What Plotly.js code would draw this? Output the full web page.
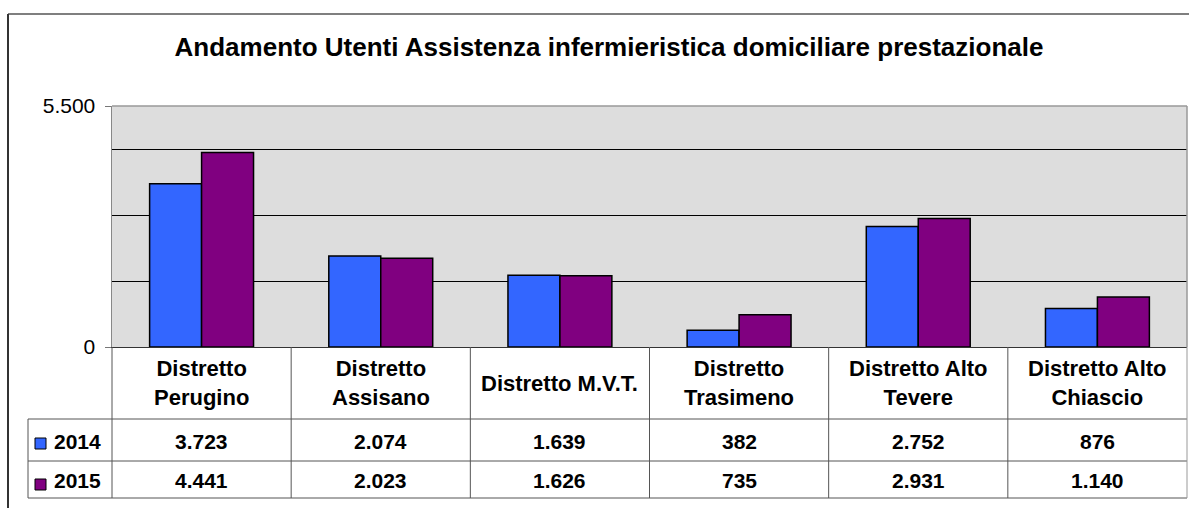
<!DOCTYPE html>
<html>
<head>
<meta charset="utf-8">
<script src="https://cdn.plot.ly/plotly-3.0.1.min.js"></script>
<style>html,body{margin:0;padding:0;background:#fff;}#chart{width:1189px;height:508px;}</style>
</head>
<body>
<div id="chart"></div>
<script>
// ---- data ----
const categories = ["Distretto Perugino", "Distretto Assisano", "Distretto M.V.T.", "Distretto Trasimeno", "Distretto Alto Tevere", "Distretto Alto Chiascio"];
const headerLabels = ["Distretto<br>Perugino", "Distretto<br>Assisano", "Distretto M.V.T.", "Distretto<br>Trasimeno", "Distretto Alto<br>Tevere", "Distretto Alto<br>Chiascio"];
const seriesNames = ["2014", "2015"];
const values2014 = [3723, 2074, 1639, 382, 2752, 876];
const values2015 = [4441, 2023, 1626, 735, 2931, 1140];
const seriesColors = ["#3366FF", "#800080"];
const yTickVals = [0, 5500];
const yGridVals = [1500, 3000, 4500];

// ---- layout helpers (pixel geometry of the canvas) ----
const W = 1189, H = 508;
const L = 112, R = 1187, T = 106, B = 347;
const px = X => (X - L) / (R - L);       // pixel x -> paper x
const py = Y => (B - Y) / (B - T);       // pixel y -> paper y
const fmt = v => String(v).replace(/\B(?=(\d{3})+(?!\d))/g, ".");
const FONT = '"Liberation Sans", Arial, sans-serif';

const seriesValues = [values2014, values2015];

const traces = seriesNames.map((n, i) => ({
  type: "bar",
  name: n,
  x: categories,
  y: seriesValues[i],
  marker: { color: seriesColors[i], line: { color: "#000", width: 1.5 } },
  hoverinfo: "x+y+name"
}));

const lineColor = "#555";
const shapes = [];
// outer chart frame
shapes.push({ type: "line", xref: "paper", yref: "paper", x0: px(8), x1: px(1195), y0: py(14), y1: py(14), line: { color: "#000", width: 1.2 } });
shapes.push({ type: "line", xref: "paper", yref: "paper", x0: px(8), x1: px(8), y0: py(14), y1: py(515), line: { color: "#333", width: 2 } });
// plot area top / right border
shapes.push({ type: "line", xref: "paper", yref: "paper", x0: 0, x1: 1, y0: 1, y1: 1, line: { color: "#999", width: 1.5 } });
shapes.push({ type: "line", xref: "paper", yref: "paper", x0: 1, x1: 1, y0: 0, y1: 1, line: { color: "#999", width: 1.5 } });
// table horizontal lines
const rowLines = [419, 461, 498];
rowLines.forEach(Y => shapes.push({ type: "line", xref: "paper", yref: "paper", x0: px(28), x1: 1, y0: py(Y), y1: py(Y), line: { color: lineColor, width: 1 } }));
// table vertical lines
shapes.push({ type: "line", xref: "paper", yref: "paper", x0: px(28), x1: px(28), y0: py(419), y1: py(498), line: { color: lineColor, width: 1 } });
shapes.push({ type: "line", xref: "paper", yref: "paper", x0: 0, x1: 0, y0: py(347), y1: py(498), line: { color: lineColor, width: 1 } });
shapes.push({ type: "line", xref: "paper", yref: "paper", x0: 1, x1: 1, y0: py(347), y1: py(498), line: { color: "#999", width: 1 } });
for (let i = 0; i < categories.length - 1; i++) {
  shapes.push({ type: "line", xref: "x", yref: "paper", x0: i + 0.5, x1: i + 0.5, y0: py(347), y1: py(498), line: { color: lineColor, width: 1 } });
}
// legend keys inside table
const keyY = [[438, 449], [479, 490]];
seriesColors.forEach((c, i) => shapes.push({ type: "rect", xref: "paper", yref: "paper", x0: px(35), x1: px(46), y0: py(keyY[i][1]), y1: py(keyY[i][0]), fillcolor: c, line: { color: "#000", width: 1 } }));

const annotations = [];
categories.forEach((c, i) => {
  annotations.push({ xref: "x", yref: "paper", x: c, y: py(383), text: "<b>" + headerLabels[i] + "</b>", showarrow: false, xanchor: "center", yanchor: "middle", font: { family: FONT, size: 22, color: "#000" } });
});
const rowCenters = [441, 480];
seriesValues.forEach((vals, s) => {
  vals.forEach((v, i) => annotations.push({ xref: "x", yref: "paper", x: categories[i], y: py(rowCenters[s]), text: "<b>" + fmt(v) + "</b>", showarrow: false, xanchor: "center", yanchor: "middle", font: { family: FONT, size: 21, color: "#000" } }));
  annotations.push({ xref: "paper", yref: "paper", x: px(52), y: py(rowCenters[s]), text: "<b>" + seriesNames[s] + "</b>", showarrow: false, xanchor: "left", yanchor: "middle", font: { family: FONT, size: 21, color: "#000" } });
});

const layout = {
  width: W, height: H,
  margin: { l: L, r: W - R, t: T, b: H - B, pad: 0 },
  paper_bgcolor: "#fff",
  plot_bgcolor: "#DDDDDD",
  showlegend: false,
  barmode: "group",
  bargap: 0.42,
  bargroupgap: 0,
  title: {
    text: "<b>Andamento Utenti Assistenza infermieristica domiciliare prestazionale</b>",
    font: { family: FONT, size: 26, color: "#000" },
    xref: "container", x: 609 / W, xanchor: "center",
    yref: "container", y: 1 - 47 / H, yanchor: "middle"
  },
  xaxis: {
    type: "category",
    showticklabels: false,
    ticks: "",
    showgrid: false,
    showline: true, linecolor: "#333", linewidth: 1,
    zeroline: false,
    fixedrange: true
  },
  yaxis: {
    range: [0, 5500],
    tickvals: yTickVals,
    ticktext: yTickVals.map(fmt),
    ticks: "outside", ticklen: 6, tickcolor: "#777", tickwidth: 1,
    ticklabelstandoff: 5,
    tickfont: { family: FONT, size: 21, color: "#000" },
    showgrid: false,
    minor: { tickvals: yGridVals, showgrid: true, gridcolor: "#000", gridwidth: 1, ticks: "" },
    showline: true, linecolor: "#888", linewidth: 1.5,
    zeroline: false,
    fixedrange: true
  },
  shapes: shapes,
  annotations: annotations
};

Plotly.newPlot("chart", traces, layout, { displayModeBar: false, staticPlot: true });
</script>
</body>
</html>
